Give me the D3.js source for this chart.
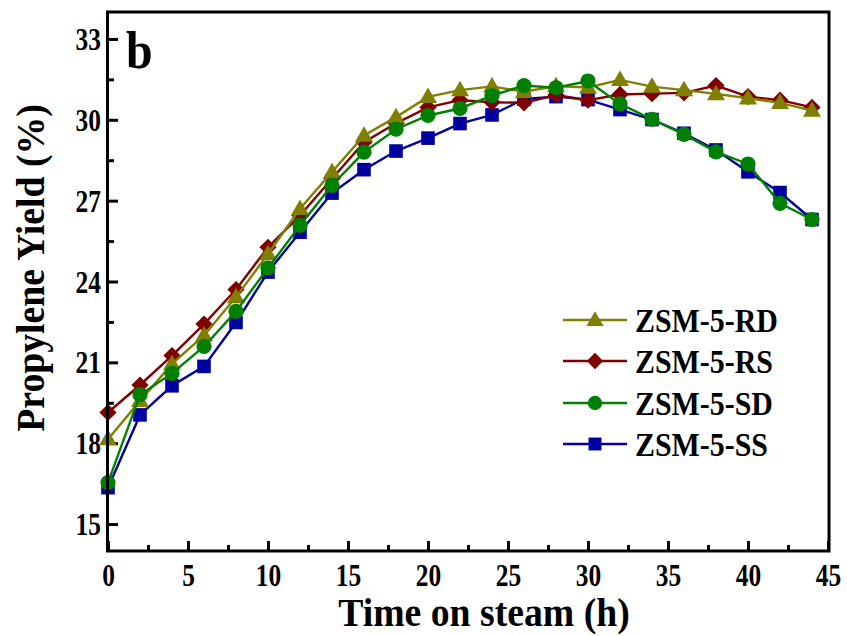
<!DOCTYPE html>
<html><head><meta charset="utf-8">
<script src="https://cdn.jsdelivr.net/npm/d3@7"></script>
<style>body{margin:0;background:#fff}svg{display:block}text{font-family:"Liberation Serif","Times New Roman",serif;font-weight:bold;fill:#000}</style>
</head><body>
<svg id="c" width="847" height="636"></svg>
<script>
const time = [0,2,4,6,8,10,12,14,16,18,20,22,24,26,28,30,32,34,36,38,40,42,44];
const seriesNames = ["ZSM-5-RD","ZSM-5-RS","ZSM-5-SD","ZSM-5-SS"];
const rd = [18.15,19.57,20.94,22.0,23.42,25.02,26.7,28.06,29.42,30.1,30.85,31.1,31.24,31.04,31.25,31.2,31.48,31.23,31.1,30.96,30.8,30.63,30.34];
const rs = [19.14,20.16,21.25,22.42,23.7,25.27,26.45,27.81,29.17,29.87,30.46,30.73,30.65,30.63,30.92,30.73,30.94,30.97,31.0,31.27,30.86,30.73,30.46];
const sd = [16.54,19.8,20.59,21.59,22.89,24.5,26.08,27.57,28.8,29.65,30.16,30.42,30.9,31.27,31.19,31.44,30.59,30.02,29.46,28.81,28.36,26.9,26.3];
const ss = [16.35,19.05,20.13,20.85,22.48,24.35,25.83,27.28,28.15,28.84,29.32,29.86,30.18,30.77,30.86,30.75,30.38,30.01,29.5,28.88,28.07,27.3,26.3];
const xTicks = [0,5,10,15,20,25,30,35,40,45];
const xMinor = [2.5,7.5,12.5,17.5,22.5,27.5,32.5,37.5,42.5];
const yTicks = [15,18,21,24,27,30,33];
const yMinor = [16.5,19.5,22.5,25.5,28.5,31.5];

const colors = {"ZSM-5-RD":"#808000","ZSM-5-RS":"#800000","ZSM-5-SD":"#008000","ZSM-5-SS":"#0000A0"};
const shapes = {"ZSM-5-RD":"tri","ZSM-5-RS":"dia","ZSM-5-SD":"cir","ZSM-5-SS":"sq"};
const values = {"ZSM-5-RD":rd,"ZSM-5-RS":rs,"ZSM-5-SD":sd,"ZSM-5-SS":ss};

const L=108,R=828,T=12,B=551;
const x = d3.scaleLinear().domain([0,45]).range([L,R]);
const y = d3.scaleLinear().domain([14,34]).range([B,T]);
const svg = d3.select("#c");

function marker(g, shape, color, s){
  if(shape==="cir"){ g.append("circle").attr("r",7.6*s).attr("fill",color); }
  else if(shape==="sq"){ const h=6.8*s; g.append("rect").attr("x",-h).attr("y",-h).attr("width",2*h).attr("height",2*h).attr("fill",color); }
  else if(shape==="dia"){ const h=8.6*s; g.append("path").attr("d",`M0,${-h}L${h},0L0,${h}L${-h},0Z`).attr("fill",color); }
  else { const w=9*s, hh=15.5*s; g.append("path").attr("d",`M0,${-hh*0.6}L${w},${hh*0.4}L${-w},${hh*0.4}Z`).attr("fill",color); }
}

// axes
const xa = svg.append("g").attr("transform",`translate(0,${B})`)
  .call(d3.axisBottom(x).tickValues(xTicks).tickSizeInner(-10).tickSizeOuter(0).tickPadding(13).tickFormat(d3.format("d")));
const xm = svg.append("g").attr("transform",`translate(0,${B})`)
  .call(d3.axisBottom(x).tickValues(xMinor).tickSizeInner(-6).tickSizeOuter(0).tickFormat(""));
const ya = svg.append("g").attr("transform",`translate(${L},0)`)
  .call(d3.axisLeft(y).tickValues(yTicks).tickSizeInner(-10).tickSizeOuter(0).tickPadding(7).tickFormat(d3.format("d")));
const ym = svg.append("g").attr("transform",`translate(${L},0)`)
  .call(d3.axisLeft(y).tickValues(yMinor).tickSizeInner(-6).tickSizeOuter(0).tickFormat(""));
[xa,xm,ya,ym].forEach(a=>{a.select(".domain").remove(); a.selectAll(".tick line").attr("stroke","#000").attr("stroke-width",3);});
const SX = 0.82;
xa.selectAll("text").style("font-size","31px").attr("dy","0.71em")
  .each(function(){ const t=d3.select(this); const yy=+t.attr("y"); t.attr("y",null).attr("transform",`translate(0,${yy}) scale(${SX},1)`); });
ya.selectAll("text").style("font-size","31px").attr("dy","0.34em")
  .each(function(){ const t=d3.select(this); const xx=+t.attr("x"); t.attr("x",null).attr("transform",`translate(${xx},0) scale(${SX},1)`); });

// series
const order = ["ZSM-5-SS","ZSM-5-RS","ZSM-5-RD","ZSM-5-SD"];
const line = d3.line().x(d=>x(d[0])).y(d=>y(d[1]));
order.forEach(name=>{
  const pts = time.map((t,i)=>[t,values[name][i]]);
  const g = svg.append("g");
  g.append("path").attr("d",line(pts)).attr("fill","none").attr("stroke",colors[name]).attr("stroke-width",2.4);
  pts.forEach(p=>{ const m=g.append("g").attr("transform",`translate(${x(p[0])},${y(p[1])})`); marker(m,shapes[name],colors[name],1); });
});

// frame
svg.append("rect").attr("x",L-0.5).attr("y",T).attr("width",R-L+1.5).attr("height",B-T).attr("fill","none").attr("stroke","#000").attr("stroke-width",3);

// labels
svg.append("text").attr("transform","translate(484,626) scale(0.92,1)").attr("text-anchor","middle").style("font-size","41px").text("Time on steam (h)");
svg.append("text").attr("transform","translate(44,268) rotate(-90) scale(0.92,1)").attr("text-anchor","middle").style("font-size","41px").text("Propylene Yield (%)");
svg.append("text").attr("transform","translate(126,68) scale(0.92,1)").style("font-size","52px").text("b");

// legend
const legY = [320,361,403,444];
seriesNames.forEach((name,i)=>{
  const g = svg.append("g").attr("transform",`translate(0,${legY[i]})`);
  g.append("line").attr("x1",563).attr("x2",627).attr("stroke",colors[name]).attr("stroke-width",2.4);
  const m = g.append("g").attr("transform","translate(595,0)"); marker(m,shapes[name],colors[name],0.95);
  g.append("text").attr("transform","translate(635,0) scale(0.88,1)").attr("dy","0.35em").style("font-size","34px").text(name);
});
</script>
</body></html>
